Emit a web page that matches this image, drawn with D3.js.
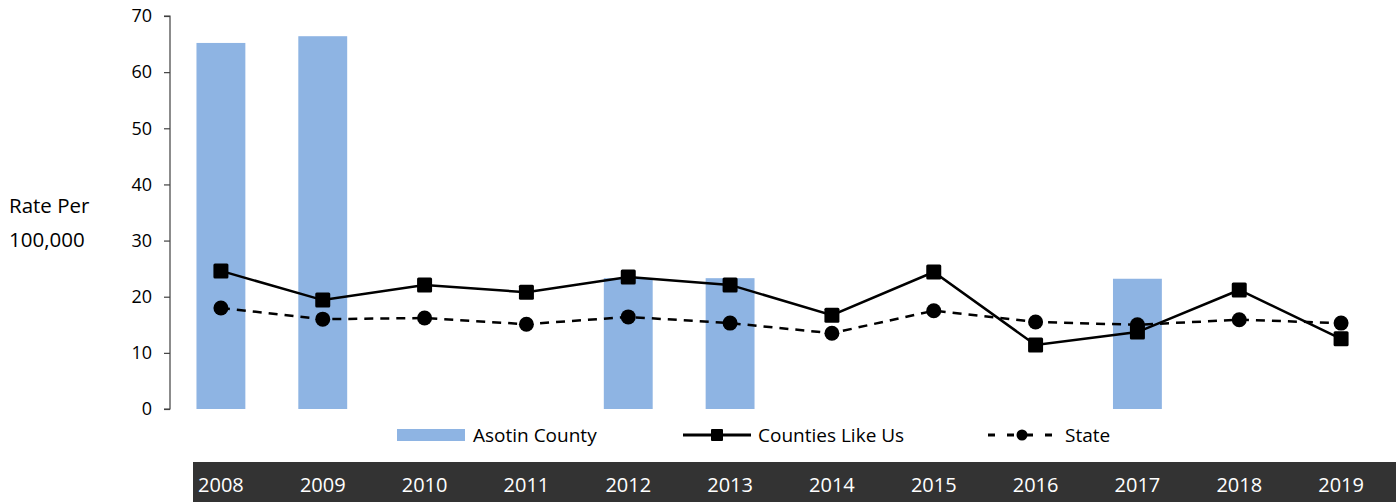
<!DOCTYPE html>
<html><head><meta charset="utf-8">
<script src="https://cdn.jsdelivr.net/npm/d3@7"></script>
<style>
html,body{margin:0;padding:0;background:#fff;}
svg{display:block;font-family:"Open Sans","Noto Sans",sans-serif;}
</style></head>
<body>
<svg id="chart" width="1396" height="502"></svg>
<script>
const years = ["2008","2009","2010","2011","2012","2013","2014","2015","2016","2017","2018","2019"];
const asotin = [65.2, 66.4, null, null, 23.3, 23.3, null, null, null, 23.2, null, null];
const countiesLikeUs = [24.6, 19.4, 22.1, 20.8, 23.5, 22.1, 16.7, 24.4, 11.4, 13.7, 21.2, 12.5];
const state = [18.0, 16.0, 16.2, 15.1, 16.4, 15.3, 13.5, 17.5, 15.5, 15.0, 15.9, 15.3];
const yTicks = [0, 10, 20, 30, 40, 50, 60, 70];
const seriesNames = ["Asotin County", "Counties Like Us", "State"];
const yTitle = ["Rate Per", "100,000"];

(function(){
const svg = d3.select("#chart");
const W = 1396, H = 502;
const pLeft = 170, pRight = 1392, pTop = 16, pBottom = 409;

const x = d3.scaleBand().domain(years).range([pLeft, pRight]).paddingInner(0.52).paddingOuter(0.26);
const y = d3.scaleLinear().domain([0, 70]).range([pBottom, pTop]);
const cx = d => x(d) + x.bandwidth() / 2;

// bars
svg.append("g").selectAll("rect")
  .data(years.map((yr, i) => ({yr, v: asotin[i]})).filter(d => d.v != null))
  .join("rect")
  .attr("x", d => x(d.yr)).attr("width", x.bandwidth())
  .attr("y", d => y(d.v)).attr("height", d => y(0) - y(d.v))
  .attr("fill", "#8EB4E3");

// y axis
const yAxis = d3.axisLeft(y).tickValues(yTicks).tickSize(6).tickPadding(12);
const ga = svg.append("g").attr("transform", `translate(${pLeft},0)`).call(yAxis);
ga.select(".domain").attr("stroke", "#404040").attr("stroke-width", 1.2).attr("d", `M-6,${pTop}H0V${pBottom}H-6`);
ga.selectAll(".tick line").attr("stroke", "#404040").attr("stroke-width", 1.2);
ga.selectAll(".tick text").attr("font-size", 18).attr("fill", "#000").attr("font-family", "'Open Sans','Noto Sans',sans-serif");

// y title
svg.append("text").attr("x", 9).attr("y", 213).attr("font-size", 20.5).attr("fill", "#000").text(yTitle[0]);
svg.append("text").attr("x", 9).attr("y", 247).attr("font-size", 20.5).attr("fill", "#000").text(yTitle[1]);

// lines
const line = d3.line().x((d, i) => cx(years[i])).y(d => y(d));
svg.append("path").datum(countiesLikeUs).attr("d", line)
  .attr("fill", "none").attr("stroke", "#000").attr("stroke-width", 2.5);
svg.append("path").datum(state).attr("d", line)
  .attr("fill", "none").attr("stroke", "#000").attr("stroke-width", 2.5).attr("stroke-dasharray", "9,7");

const sq = 15;
svg.append("g").selectAll("rect").data(countiesLikeUs).join("rect")
  .attr("x", (d, i) => cx(years[i]) - sq / 2).attr("y", d => y(d) - sq / 2)
  .attr("width", sq).attr("height", sq).attr("rx", 1.5).attr("fill", "#000");
svg.append("g").selectAll("circle").data(state).join("circle")
  .attr("cx", (d, i) => cx(years[i])).attr("cy", d => y(d)).attr("r", 7.5).attr("fill", "#000");

// legend
const lg = svg.append("g").attr("font-size", 19);
const ly = 435;
lg.append("rect").attr("x", 397).attr("y", 429).attr("width", 68).attr("height", 12).attr("fill", "#8EB4E3");
lg.append("text").attr("x", 473).attr("y", ly + 7).text(seriesNames[0]);
lg.append("line").attr("x1", 683).attr("x2", 751).attr("y1", ly).attr("y2", ly).attr("stroke", "#000").attr("stroke-width", 3);
lg.append("rect").attr("x", 717 - 6).attr("y", ly - 6).attr("width", 12).attr("height", 12).attr("rx", 1).attr("fill", "#000");
lg.append("text").attr("x", 758).attr("y", ly + 7).text(seriesNames[1]);
lg.append("line").attr("x1", 988).attr("x2", 1054).attr("y1", ly).attr("y2", ly).attr("stroke", "#000").attr("stroke-width", 3).attr("stroke-dasharray", "7,12");
lg.append("circle").attr("cx", 1022).attr("cy", ly).attr("r", 5.5).attr("fill", "#000");
lg.append("text").attr("x", 1065).attr("y", ly + 7).text(seriesNames[2]);

// bottom year band
svg.append("rect").attr("x", 193).attr("y", 462).attr("width", W - 193).attr("height", H - 462).attr("fill", "#333333");
svg.append("g").selectAll("text").data(years).join("text")
  .attr("x", d => cx(d)).attr("y", 492).attr("text-anchor", "middle")
  .attr("font-size", 20).attr("fill", "#fff").text(d => d);
})();
</script>
</body></html>
